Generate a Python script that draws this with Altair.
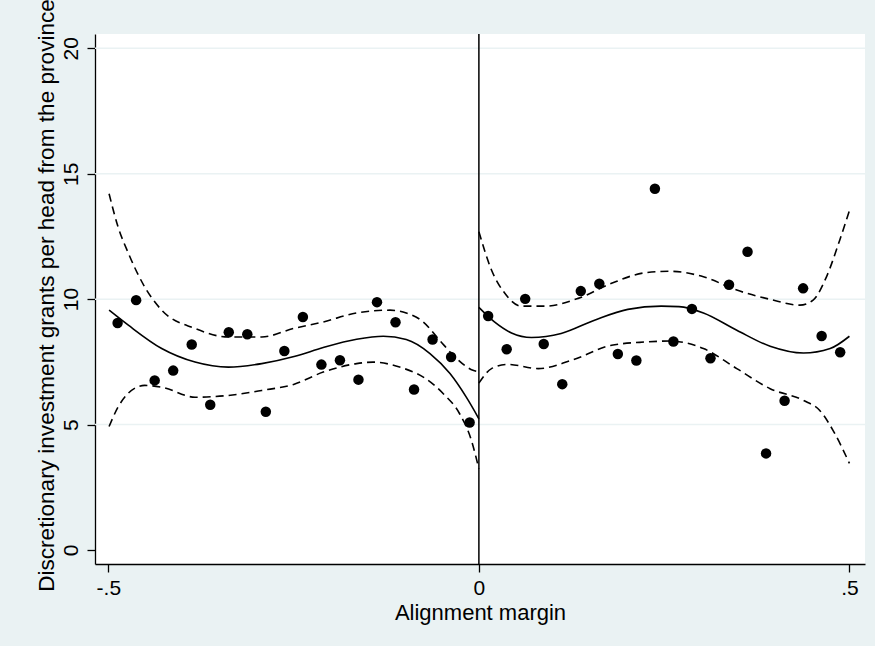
import altair as alt
import pandas as pd

# ---- binned scatter points ----
x_left = [-0.4875, -0.4625, -0.4375, -0.4125, -0.3875, -0.3625, -0.3375, -0.3125, -0.2875, -0.2625,
          -0.2375, -0.2125, -0.1875, -0.1625, -0.1375, -0.1125, -0.0875, -0.0625, -0.0375, -0.0125]
y_left = [9.05, 9.96, 6.76, 7.15, 8.19, 5.79, 8.68, 8.60, 5.51, 7.93,
          9.29, 7.39, 7.56, 6.79, 9.88, 9.08, 6.40, 8.39, 7.69, 5.08]
x_right = [0.0125, 0.0375, 0.0625, 0.0875, 0.1125, 0.1375, 0.1625, 0.1875, 0.2125, 0.2375,
           0.2625, 0.2875, 0.3125, 0.3375, 0.3625, 0.3875, 0.4125, 0.4375, 0.4625, 0.4875]
y_right = [9.33, 8.00, 10.01, 8.21, 6.61, 10.32, 10.61, 7.81, 7.55, 14.40,
           8.31, 9.61, 7.64, 10.57, 11.89, 3.85, 5.95, 10.43, 8.53, 7.88]

# ---- fitted line (left) ----
fit_lx = [-0.499, -0.473, -0.428, -0.383, -0.338, -0.293, -0.248, -0.210, -0.165, -0.129,
          -0.098, -0.066, -0.039, -0.017, 0.0]
fit_ly = [9.56, 8.96, 8.03, 7.49, 7.29, 7.43, 7.72, 8.07, 8.40, 8.52,
          8.39, 7.83, 7.03, 6.09, 5.23]
hi_lx = [-0.499, -0.487, -0.473, -0.451, -0.428, -0.383, -0.338, -0.293, -0.250, -0.210,
         -0.165, -0.120, -0.098, -0.075, -0.053, -0.030, -0.008, 0.0]
hi_ly = [14.20, 12.89, 11.83, 10.49, 9.56, 8.83, 8.49, 8.49, 8.83, 9.09,
         9.45, 9.56, 9.45, 9.09, 8.36, 7.63, 7.16, 7.10]
lo_lx = [-0.499, -0.487, -0.473, -0.451, -0.428, -0.383, -0.338, -0.293, -0.250, -0.210,
         -0.165, -0.143, -0.107, -0.075, -0.048, -0.026, -0.010, 0.0]
lo_ly = [4.92, 5.69, 6.25, 6.56, 6.49, 6.09, 6.16, 6.36, 6.60, 7.09,
         7.43, 7.49, 7.29, 6.89, 6.23, 5.43, 4.36, 3.23]

# ---- fitted line (right) ----
fit_rx = [0.0, 0.021, 0.044, 0.071, 0.111, 0.156, 0.201, 0.246, 0.270, 0.303,
          0.348, 0.393, 0.438, 0.474, 0.500]
fit_ry = [9.67, 9.09, 8.65, 8.47, 8.63, 9.16, 9.59, 9.72, 9.70, 9.45,
          8.76, 8.12, 7.85, 8.03, 8.52]
hi_rx = [0.0, 0.017, 0.035, 0.057, 0.089, 0.134, 0.179, 0.224, 0.258, 0.303,
         0.348, 0.393, 0.433, 0.451, 0.469, 0.487, 0.500]
hi_ry = [12.69, 11.16, 10.23, 9.72, 9.72, 10.03, 10.63, 11.05, 11.11, 10.89,
         10.36, 9.99, 9.76, 9.96, 10.89, 12.36, 13.53]
lo_rx = [0.0, 0.017, 0.039, 0.080, 0.125, 0.179, 0.224, 0.258, 0.303, 0.348,
         0.393, 0.438, 0.460, 0.478, 0.500]
lo_ry = [6.65, 7.23, 7.40, 7.23, 7.56, 8.16, 8.29, 8.33, 8.03, 7.23,
         6.43, 5.96, 5.56, 4.76, 3.45]

y_ticks = [0, 5, 10, 15, 20]
grid_vals = [5, 10, 15, 20]
x_ticks = [-0.5, 0, 0.5]
cutoff = [0]

FONT = "Liberation Sans, Arial, Helvetica, sans-serif"
BG = "#EAF2F3"

x_scale = alt.Scale(domain=[-0.518, 0.521], nice=False, zero=False)
y_scale = alt.Scale(domain=[-0.56, 20.57], nice=False, zero=False)

x_axis = alt.Axis(
    values=x_ticks,
    labelExpr="datum.value == 0 ? '0' : (datum.value < 0 ? '-' : '') + replace(format(abs(datum.value), '.1f'), '0.', '.')",
    title="Alignment margin",
    labelPadding=5,
    labelFlush=False,
    titleBaseline="alphabetic",
    titleY=55,
    titleFontSize=22,
)
y_axis = alt.Axis(
    values=y_ticks,
    labelAngle=270,
    labelAlign="center",
    labelBaseline="alphabetic",
    labelPadding=10,
    labelFlush=False,
    title="Discretionary investment grants per head from the province",
    titleAngle=270,
    titleAlign="center",
    titleBaseline="alphabetic",
    titleX=-42,
    titleY=261,
    titleFontSize=22.6,
)


def X():
    return alt.X("x:Q", scale=x_scale, axis=x_axis)


def Y():
    return alt.Y("y:Q", scale=y_scale, axis=y_axis)


def df(xs, ys):
    return pd.DataFrame({"x": xs, "y": ys})


grid = alt.Chart(pd.DataFrame({"y": grid_vals})).mark_rule(
    color=BG, strokeWidth=1.5
).encode(y=Y())

vline = alt.Chart(pd.DataFrame({"x": cutoff})).mark_rule(
    color="black", strokeWidth=1.5
).encode(x=X())


def solid(xs, ys):
    return alt.Chart(df(xs, ys)).mark_line(
        color="black", strokeWidth=1.6, interpolate="monotone"
    ).encode(x=X(), y=Y())


def dashed(xs, ys):
    return alt.Chart(df(xs, ys)).mark_line(
        color="black", strokeWidth=1.6, strokeDash=[8, 5], interpolate="monotone"
    ).encode(x=X(), y=Y())


pts = alt.Chart(df(x_left + x_right, y_left + y_right)).mark_circle(
    size=110, color="black", opacity=1
).encode(x=X(), y=Y())

chart = alt.layer(
    grid,
    vline,
    dashed(hi_lx, hi_ly), dashed(lo_lx, lo_ly), solid(fit_lx, fit_ly),
    dashed(hi_rx, hi_ry), dashed(lo_rx, lo_ry), solid(fit_rx, fit_ry),
    pts,
).properties(
    width=770,
    height=530,
    padding={"left": 95, "top": 34, "right": 10, "bottom": 82},
    autosize=alt.AutoSizeParams(type="none"),
).configure(
    background=BG,
    font=FONT,
).configure_view(
    fill="white", stroke=None
).configure_axis(
    domainColor="black",
    domainWidth=1.3,
    tickColor="black",
    tickWidth=1.3,
    tickSize=8,
    labelFontSize=21,
    labelColor="black",
    titleColor="black",
    titleFontWeight="normal",
    labelFont=FONT,
    titleFont=FONT,
    grid=False,
)

chart.save("out.html", embed_options={"renderer": "svg", "actions": False})
